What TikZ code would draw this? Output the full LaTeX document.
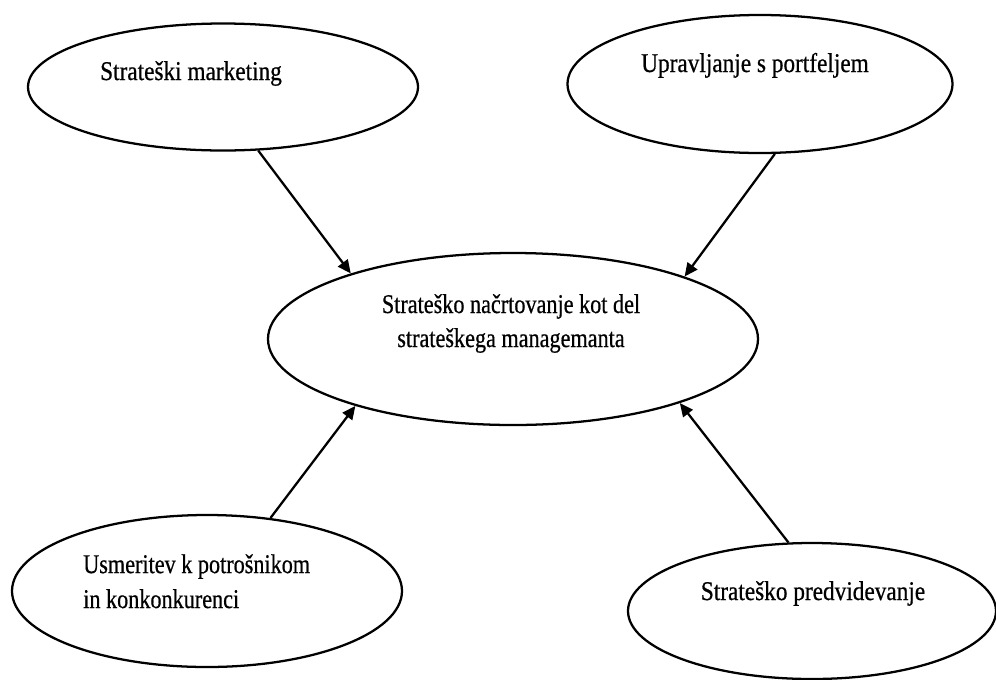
\documentclass[tikz,border=0pt]{standalone}
\usepackage{fontspec}
\setmainfont{Liberation Serif}[FakeStretch=0.86,FakeBold=0.6]
\newfontfamily\narrowA{Liberation Serif}[FakeStretch=0.82,FakeBold=0.6]
\usetikzlibrary{shapes.geometric,arrows.meta}
\tikzset{
  oval/.style={draw=black, line width=1.7pt, ellipse, inner sep=0pt},
  lbl/.style={font=\fontsize{20.3}{25.5}\selectfont, inner sep=0pt, text=black},
  conn/.style={draw=black, line width=1.7pt, -{Triangle[length=10pt,width=9pt]}}
}
\begin{document}
\begin{tikzpicture}[x=0.75pt,y=-0.75pt]
\fill[white] (0,0) rectangle (996,679);
\useasboundingbox (0,0) rectangle (996,679);
\node[oval, minimum width=292.5pt, minimum height=95.25pt] (tl) at (223,87) {};
\node[oval, minimum width=288.75pt, minimum height=103.5pt] (tr) at (760,84) {};
\node[oval, minimum width=367.5pt, minimum height=129pt] (c) at (513,339) {};
\node[oval, minimum width=292.5pt, minimum height=114pt] (bl) at (207,591) {};
\node[oval, minimum width=276pt, minimum height=102pt] (br) at (812,611) {};
\node[lbl, anchor=base] (ttl) at (191,80) {Strateški marketing};
\node[lbl, anchor=base] (ttr) at (755,72) {Upravljanje s portfeljem};
\node[lbl, font=\fontsize{20.3}{25.5}\narrowA, anchor=base, align=center] (tc) at (511,347) {Strateško načrtovanje kot del\\strateškega managemanta};
\node[lbl, font=\fontsize{20.3}{26.2}\narrowA, anchor=base west, align=left] (tbl) at (83,608) {Usmeritev k potrošnikom\\in konkonkurenci};
\node[lbl, anchor=base] (tbr) at (813,600) {Strateško predvidevanje};
\draw[conn] (tl.-61.6) -- (c.158.3);
\draw[conn] (tr.-78.5) -- (c.20.8);
\draw[conn] (bl.49.6) -- (c.-157.6);
\draw[conn] (br.109.4) -- (c.-21.7);
\end{tikzpicture}
\end{document}
